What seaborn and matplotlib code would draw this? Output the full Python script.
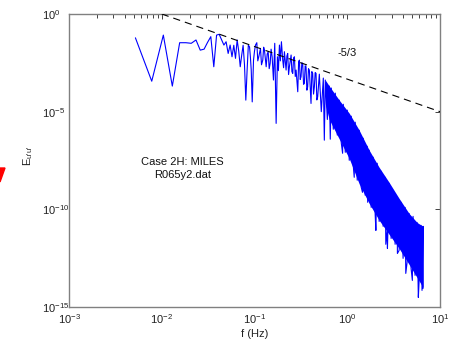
import numpy as np
import pandas as pd
import seaborn as sns
import matplotlib
matplotlib.use("Agg")
import matplotlib.pyplot as plt
from matplotlib.patches import Polygon
from matplotlib.ticker import LogLocator, NullLocator, FixedLocator

# ---------------- data ----------------
# individual low-frequency FFT bins
low_f = [0.0052, 0.0078, 0.0104, 0.0130, 0.0156, 0.0182, 0.0208, 0.0234, 0.0260,
         0.0286, 0.0312, 0.0338, 0.0364, 0.0390, 0.0416, 0.0442, 0.0468, 0.0494,
         0.0520, 0.0546, 0.0572, 0.0598, 0.0624, 0.0650, 0.0676, 0.0702, 0.0728,
         0.0754, 0.0780, 0.0806, 0.0832, 0.0858]
low_exp = [-1.22, -3.44, -1.08, -3.69, -1.47, -1.47, -1.50, -1.33, -1.85,
           -1.80, -1.45, -1.16, -2.70, -1.08, -1.04, -1.33, -1.59, -1.42,
           -2.02, -1.59, -2.19, -1.60, -2.27, -1.33, -1.90, -2.70, -2.10,
           -1.60, -2.60, -4.41, -2.90, -1.60]

# mid-frequency noisy part
mid_f = [0.0884, 0.0903, 0.0922, 0.0945, 0.0976, 0.1000, 0.1025, 0.1059, 0.1085,
         0.1112, 0.1160, 0.1190, 0.1228, 0.1255, 0.1281, 0.1336, 0.1370, 0.1404,
         0.1440, 0.1475, 0.1510, 0.1549, 0.1601, 0.1653, 0.1711, 0.1767, 0.1810,
         0.1857, 0.1900, 0.1951, 0.2015, 0.2060, 0.2101, 0.2191, 0.2235, 0.2281,
         0.2330, 0.2379, 0.2481, 0.2530, 0.2585, 0.2640, 0.2694, 0.2750, 0.2808,
         0.2927, 0.2990, 0.3048, 0.3110, 0.3176, 0.3240, 0.3308, 0.3380, 0.3448,
         0.3520, 0.3594, 0.3670, 0.3744, 0.3820, 0.3904, 0.4068, 0.4150, 0.4239,
         0.4330, 0.4420, 0.4510, 0.4607, 0.4700, 0.4800]
mid_exp = [-1.68, -2.20, -2.87, -4.50, -2.36, -1.90, -1.59, -1.47, -2.40,
           -2.19, -1.76, -2.60, -2.36, -1.70, -1.85, -2.70, -2.05, -1.93,
           -2.80, -2.53, -1.80, -2.19, -3.38, -1.50, -5.60, -2.19, -2.90,
           -1.59, -2.40, -1.42, -2.36, -2.75, -1.93, -2.87, -2.15, -2.02,
           -3.10, -2.70, -2.10, -2.95, -3.04, -2.25, -2.19, -3.20, -2.87,
           -3.98, -2.45, -2.36, -3.35, -3.21, -2.50, -2.53, -3.60, -3.55,
           -2.65, -2.70, -3.90, -3.73, -2.80, -2.87, -4.58, -2.95, -3.04,
           -4.10, -3.73, -3.00, -3.04, -4.40, -4.24]

# high-frequency dense part (zig-zag incl. downward spikes)
high_f = [0.500, 0.525, 0.552, 0.566, 0.580, 0.610, 0.640, 0.656, 0.673, 0.707,
          0.743, 0.781, 0.820, 0.862, 0.891, 0.906, 0.952, 1.000, 1.051, 1.104,
          1.160, 1.189, 1.219, 1.281, 1.346, 1.414, 1.460, 1.486, 1.561, 1.641,
          1.661, 1.724, 1.811, 1.903, 2.000, 2.035, 2.102, 2.208, 2.320, 2.438,
          2.562, 2.605, 2.692, 2.712, 2.828, 2.972, 3.123, 3.281, 3.448, 3.474,
          3.623, 3.807, 4.000, 4.203, 4.276, 4.416, 4.641, 4.876, 5.034, 5.124,
          5.384, 5.657, 5.840, 5.944, 6.246, 6.400, 6.563, 6.563]
high_exp = [-3.08, -5.00, -3.28, -6.46, -3.38, -5.40, -3.69, -6.41, -3.79, -5.90,
            -4.05, -6.20, -4.41, -6.60, -7.13, -4.62, -7.08, -4.92, -7.49, -5.23,
            -7.74, -8.36, -5.54, -8.51, -5.95, -8.87, -9.13, -6.36, -9.28, -6.77,
            -9.64, -6.97, -9.90, -7.33, -10.26, -11.08, -7.64, -10.62, -8.05, -10.87,
            -8.36, -11.79, -11.08, -12.00, -8.67, -11.49, -9.03, -11.79, -9.38, -12.26,
            -12.10, -9.64, -12.51, -9.90, -13.28, -12.72, -10.21, -13.03, -13.64, -10.36,
            -13.38, -10.67, -14.51, -13.74, -10.82, -14.15, -10.87, -14.05]

# solid band of the dense high-frequency part
band_f = [0.580, 0.640, 0.820, 1.051, 1.346, 1.724, 2.208, 2.828, 3.623, 4.641, 5.657, 6.563]
band_hi_exp = [-3.38, -3.69, -4.41, -5.08, -5.95, -6.97, -7.85, -8.62, -9.44, -10.21, -10.67, -10.87]
band_lo_exp = [-4.60, -5.40, -6.40, -7.40, -8.70, -9.70, -10.56, -11.28, -12.00, -12.82, -13.49, -14.00]

# -5/3 reference line end points
slope_f = [0.01, 10.0]
slope_E = [1.0, 1e-5]

x_ticks = [1e-3, 1e-2, 1e-1, 1e0, 1e1]
y_ticks = [1e-15, 1e-10, 1e-5, 1e0]

# ---------------- style ----------------
sns.set_theme(style="white")
plt.rcParams['font.family'] = ['Liberation Sans', 'DejaVu Sans']
plt.rcParams['mathtext.fontset'] = 'custom'
plt.rcParams['mathtext.rm'] = 'Liberation Sans'
plt.rcParams['mathtext.it'] = 'Liberation Sans:italic'
plt.rcParams['mathtext.default'] = 'regular'

W, H = 456, 344
fig = plt.figure(figsize=(W / 100, H / 100), dpi=100)
ax = fig.add_axes([69 / W, 1 - 307 / H, (440 - 69) / W, (307 - 14) / H])
ax.set_xscale('log')
ax.set_yscale('log')

spec = pd.DataFrame({
    'f': low_f + mid_f + high_f,
    'E': 10.0 ** np.array(low_exp + mid_exp + high_exp),
})
ax.fill_between(band_f, 10.0 ** np.array(band_lo_exp), 10.0 ** np.array(band_hi_exp),
                color='#0000ff', lw=0, zorder=2)
sns.lineplot(data=spec, x='f', y='E', estimator=None, sort=False,
             color='#0000ff', lw=0.8, ax=ax, zorder=3)

slope = pd.DataFrame({'f': slope_f, 'E': slope_E})
sns.lineplot(data=slope, x='f', y='E', estimator=None, sort=False,
             color='black', lw=0.8, ax=ax, zorder=4)
ax.lines[-1].set_dashes((6.5, 4.5))

ax.text(0.78, 1e-2, '-5/3', fontsize=8, ha='left', va='center', color='#111111')
ax.text(0.0168, 10 ** -7.9, 'Case 2H: MILES\nR065y2.dat', fontsize=8,
        ha='center', va='center', multialignment='center', linespacing=1.35,
        color='#111111')

ax.set_xlim(1e-3, 1e1)
ax.set_ylim(1e-15, 1e0)
ax.xaxis.set_major_locator(FixedLocator(x_ticks))
ax.xaxis.set_minor_locator(LogLocator(base=10, subs=np.arange(2, 10), numticks=20))
ax.yaxis.set_major_locator(FixedLocator(y_ticks))
ax.yaxis.set_minor_locator(NullLocator())

ax.tick_params(which='both', direction='in', top=True, right=True,
               color='#222222', width=0.6, labelsize=8, labelcolor='#222222')
ax.tick_params(which='major', length=3.4)
ax.tick_params(which='minor', length=2.6)
ax.tick_params(axis='x', pad=4)
ax.tick_params(axis='y', pad=19.4)
for lab in ax.get_yticklabels():
    lab.set_horizontalalignment('left')

for s in ax.spines.values():
    s.set_color('#808080')
    s.set_linewidth(1.0)

ax.set_xlabel('f (Hz)', fontsize=8, color='#222222', labelpad=2)
ax.set_ylabel(r"E$_{\text{u'u'}}$", fontsize=8, color='#222222')
ax.yaxis.set_label_coords(-0.092, 0.515)

# red mark at the left edge of the image
fig.patches.append(Polygon([[0 / W, 1 - 168 / H], [5 / W, 1 - 168 / H], [0 / W, 1 - 182 / H]],
                           closed=True, transform=fig.transFigure, color='#ff0000',
                           figure=fig))

fig.savefig('out.png', dpi=100)
